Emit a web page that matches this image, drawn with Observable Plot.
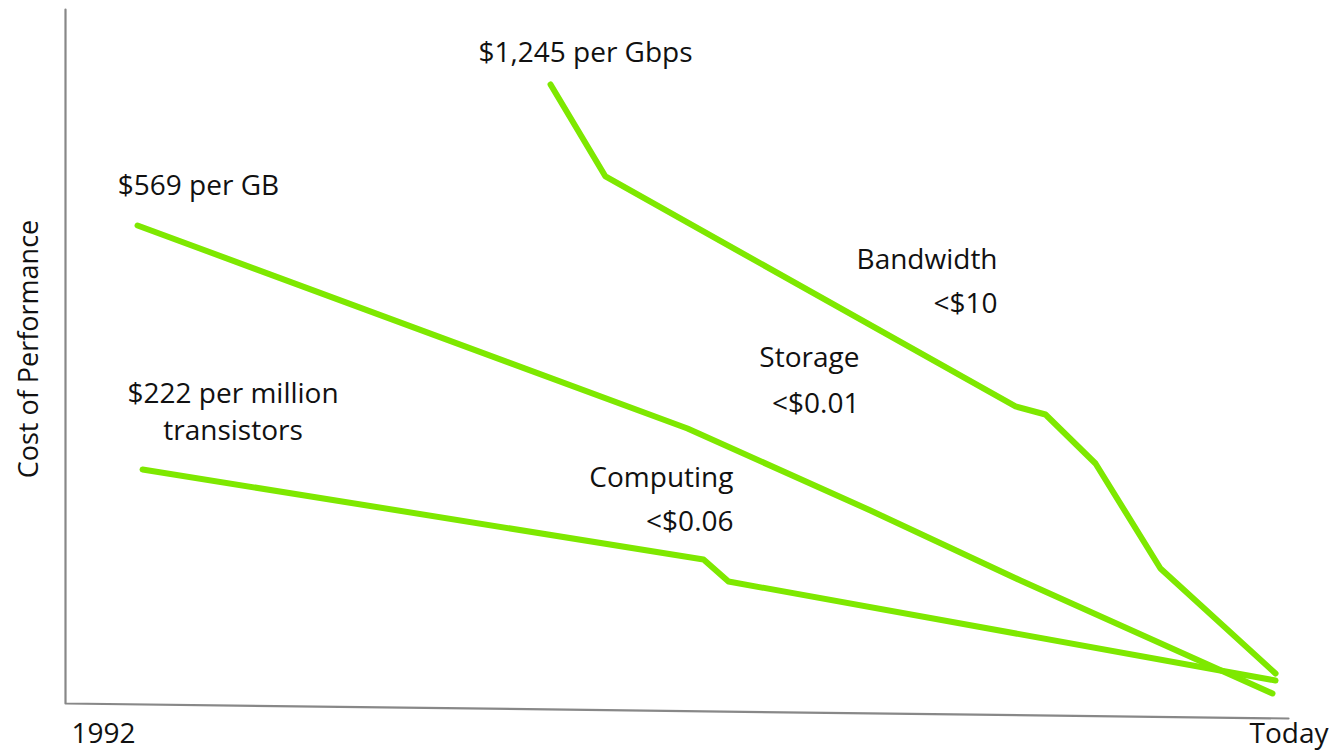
<!DOCTYPE html>
<html>
<head>
<meta charset="utf-8">
<script src="https://cdn.jsdelivr.net/npm/d3@7"></script>
<script src="https://cdn.jsdelivr.net/npm/@observablehq/plot@0.6"></script>
<style>
  html, body { margin: 0; padding: 0; background: #fff; }
  #chart svg { display: block; }
</style>
</head>
<body>
<div id="chart"></div>
<script>
// Time runs 0 (1992) .. 100 (Today); cost of performance 0 .. 100 (relative units)
const bandwidthX = [39.66, 44.15, 77.68, 80.13, 84.22, 89.53, 98.94];
const bandwidthY = [89.19, 75.94, 42.80, 41.64, 34.58, 19.45, 4.32];
const storageX = [5.89, 50.86, 65.82, 78.09, 98.69];
const storageY = [68.88, 39.63, 27.81, 17.72, 1.44];
const computingX = [6.30, 52.17, 54.21, 98.94];
const computingY = [33.72, 20.75, 17.58, 3.31];

const axisX = [0, 0, 100];
const axisY = [100, 0, -2.16];

const labelText = ["$1,245 per Gbps", "$569 per GB", "$222 per million", "transistors",
  "Bandwidth", "<$10", "Storage", "<$0.01", "Computing", "<$0.06"];
const labelX = [42.52, 10.87, 13.70, 13.70, 76.21, 76.21, 64.92, 64.92, 54.62, 54.62];
const labelY = [93.66, 74.50, 44.60, 39.20, 63.83, 57.49, 49.71, 43.08, 32.56, 26.22];
const labelAnchor = ["middle", "middle", "middle", "middle", "end", "end", "end", "end", "end", "end"];

const tickLabels = ["1992", "Today"];
const tickX = [3.1, 100.04];
const tickY = -4.47;

const yTitle = "Cost of Performance";

const series = [
  ["Bandwidth", bandwidthX, bandwidthY],
  ["Storage", storageX, storageY],
  ["Computing", computingX, computingY]
];
const lineData = series.flatMap(([name, xs, ys]) => xs.map((x, i) => ({series: name, x, y: ys[i]})));
const axisData = axisX.map((x, i) => ({x, y: axisY[i]}));
const labels = labelText.map((t, i) => ({t, x: labelX[i], y: labelY[i], a: labelAnchor[i]}));
const ticks = tickLabels.map((t, i) => ({t, x: tickX[i], y: tickY}));

const font = "'Open Sans', 'Noto Sans', sans-serif";
const green = "#7ee800";

const chart = Plot.plot({
  width: 1330,
  height: 751,
  marginLeft: 65,
  marginRight: 42,
  marginTop: 9,
  marginBottom: 48,
  x: {domain: [0, 100], axis: null},
  y: {domain: [0, 100], axis: null},
  style: {fontFamily: font, background: "#fff"},
  marks: [
    Plot.line(axisData, {x: "x", y: "y", stroke: "#888", strokeWidth: 2.2}),
    Plot.line(lineData, {x: "x", y: "y", z: "series", stroke: green, strokeWidth: 6,
      strokeLinecap: "round", strokeLinejoin: "round"}),
    Plot.text(labels.filter(d => d.a === "middle"), {x: "x", y: "y", text: "t", textAnchor: "middle",
      fontSize: 28, fontFamily: font, fill: "#111"}),
    Plot.text(labels.filter(d => d.a === "end"), {x: "x", y: "y", text: "t", textAnchor: "end",
      fontSize: 28, fontFamily: font, fill: "#111"}),
    Plot.text(ticks, {x: "x", y: "y", text: "t", textAnchor: "middle",
      fontSize: 28, fontFamily: font, fill: "#111"}),
    Plot.text([yTitle], {x: () => -2.94, y: () => 51.08, text: d => d, rotate: -90,
      fontSize: 27, fontFamily: font, fill: "#111"})
  ]
});
document.getElementById("chart").appendChild(chart);
</script>
</body>
</html>
